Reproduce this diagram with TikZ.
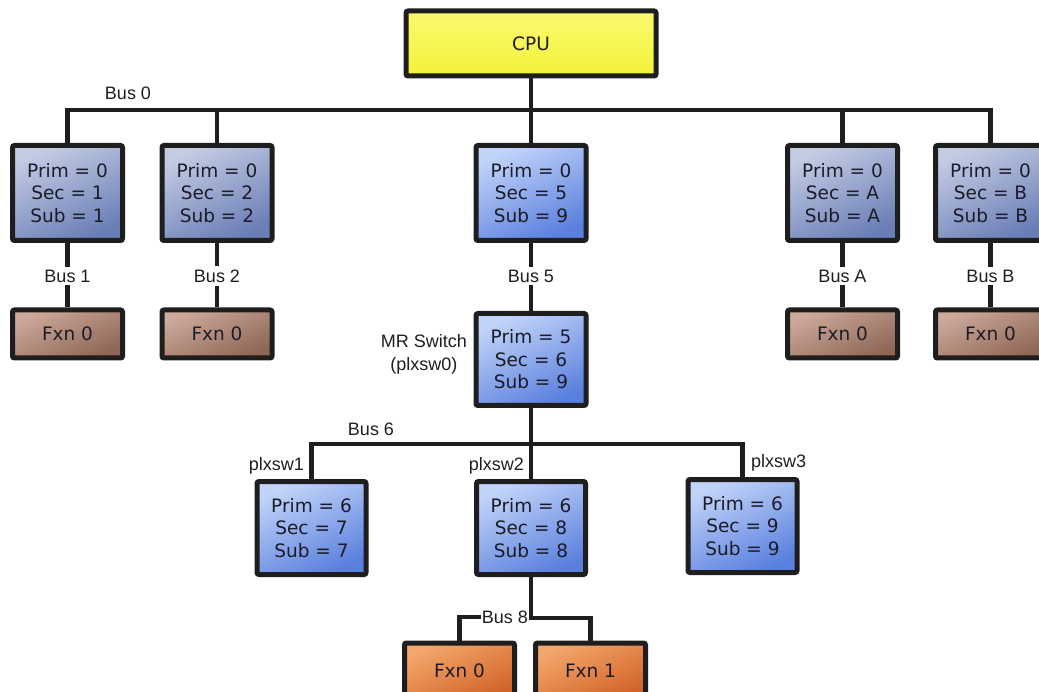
\documentclass[tikz,border=0pt]{standalone}
\usepackage{fontspec}
\setmainfont{DejaVu Sans}
\newfontfamily\lblfont{Liberation Sans}

\definecolor{linec}{HTML}{1E1E1E}
\definecolor{txt}{HTML}{1C1C28}
\definecolor{greyhi}{HTML}{C4CCE4}
\definecolor{greylo}{HTML}{6A7EB6}
\definecolor{bluehi}{HTML}{C2D4F8}
\definecolor{bluelo}{HTML}{5A80DE}
\definecolor{brownhi}{HTML}{CDAA9C}
\definecolor{brownlo}{HTML}{8E6656}
\definecolor{orangehi}{HTML}{F4A86C}
\definecolor{orangelo}{HTML}{D2642A}
\definecolor{cpuyel}{HTML}{F2F23A}
\definecolor{cpuhi}{HTML}{FAFA70}

\begin{document}
\begin{tikzpicture}[x=1pt,y=-1pt,
  box/.style={draw=linec, line width=5pt, rounded corners=2pt, inner sep=0pt,
    align=center, text=txt, font=\fontsize{18.5}{22.5}\selectfont},
  bridge/.style={box, minimum width=110, minimum height=95},
  greybr/.style={bridge, top color=greyhi, bottom color=greylo, shading angle=25},
  bluebr/.style={bridge, top color=bluehi, bottom color=bluelo, shading angle=25},
  fxnbrown/.style={box, minimum width=110, minimum height=48,
    top color=brownhi, bottom color=brownlo, shading angle=25},
  fxnorange/.style={box, minimum width=110, minimum height=56,
    top color=orangehi, bottom color=orangelo, shading angle=25},
  lbl/.style={font=\lblfont\fontsize{18}{23}\selectfont, text=linec, inner sep=3pt},
  wire/.style={draw=linec, line width=4.3pt}
]
\useasboundingbox (0,0) rectangle (1039,692);
\clip (0,0) rectangle (1039,692);

% root complex
\node[box, minimum width=250, minimum height=65, top color=cpuhi, bottom color=cpuyel] (cpu) at (531,43.5) {CPU};

% bridges on bus 0
\node[greybr] (b1) at (67.5,193) {Prim = 0\\Sec = 1\\Sub = 1};
\node[greybr] (b2) at (217,193) {Prim = 0\\Sec = 2\\Sub = 2};
\node[bluebr] (b5) at (531,193) {Prim = 0\\Sec = 5\\Sub = 9};
\node[greybr] (bA) at (842.5,193) {Prim = 0\\Sec = A\\Sub = A};
\node[greybr] (bB) at (990.5,193) {Prim = 0\\Sec = B\\Sub = B};

% endpoint functions
\node[fxnbrown] (f1) at (67.5,334) {Fxn 0};
\node[fxnbrown] (f2) at (217,334) {Fxn 0};
\node[fxnbrown] (fA) at (842.5,334) {Fxn 0};
\node[fxnbrown] (fB) at (990.5,334) {Fxn 0};

% multi-root switch
\node[bluebr, minimum height=92] (mr) at (531,359.5) {Prim = 5\\Sec = 6\\Sub = 9};
\node[lbl, align=center, anchor=east] (mrlbl) at (470,354) {MR Switch\\(plxsw0)};

% downstream switch ports
\node[bluebr, minimum width=109, minimum height=93] (s1) at (311.5,528) {Prim = 6\\Sec = 7\\Sub = 7};
\node[bluebr, minimum width=109, minimum height=93] (s2) at (531,528) {Prim = 6\\Sec = 8\\Sub = 8};
\node[bluebr, minimum width=109, minimum height=93] (s3) at (742.5,526) {Prim = 6\\Sec = 9\\Sub = 9};

% functions on bus 8
\node[fxnorange] (g0) at (459.5,671) {Fxn 0};
\node[fxnorange] (g1) at (590.5,671) {Fxn 1};

% bus 0
\coordinate (j0) at (531,110);
\draw[wire] (cpu.south) -- (j0);
\draw[wire] (b1.north) |- (j0) -| (bB.north);
\draw[wire] (b2.north) -- (b2.north |- j0);
\draw[wire] (b5.north) -- (b5.north |- j0);
\draw[wire] (bA.north) -- (bA.north |- j0);
\node[lbl] (bus0) at (128,93) {Bus 0};

% secondary buses of the bus 0 bridges
\node[lbl] (bus1) at (67.5,276) {Bus 1};
\node[lbl] (bus2) at (217,276) {Bus 2};
\node[lbl] (bus5) at (531,276) {Bus 5};
\node[lbl] (busA) at (842.5,276) {Bus A};
\node[lbl] (busB) at (990.5,276) {Bus B};
\draw[wire] (b1.south) -- (bus1) -- (f1.north);
\draw[wire] (b2.south) -- (bus2) -- (f2.north);
\draw[wire] (b5.south) -- (bus5) -- (mr.north);
\draw[wire] (bA.south) -- (busA) -- (fA.north);
\draw[wire] (bB.south) -- (busB) -- (fB.north);

% bus 6
\coordinate (j6) at (531,444);
\draw[wire] (mr.south) -- (j6);
\draw[wire] (s1.north) |- (j6) -| (s3.north);
\draw[wire] (s2.north) -- (s2.north |- j6);
\node[lbl] (bus6) at (371,429) {Bus 6};
\node[lbl, anchor=east] (p1) at (307,466) {plxsw1};
\node[lbl, anchor=east] (p2) at (527,466) {plxsw2};
\node[lbl, anchor=west] (p3) at (748,463) {plxsw3};

% bus 8
\coordinate (j8) at (531,618);
\draw[wire] (s2.south) -- (j8) -| (g1.north);
\node[lbl, anchor=east, inner sep=1pt] (bus8) at (529,617) {Bus 8};
\draw[wire] (bus8.west) -| (g0.north);
\end{tikzpicture}
\end{document}
